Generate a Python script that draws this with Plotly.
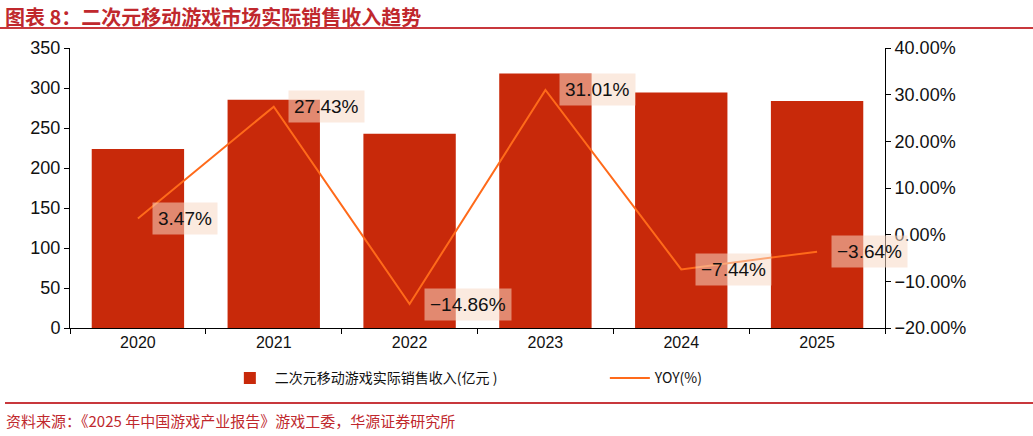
import plotly.graph_objects as go

years = ["2020", "2021", "2022", "2023", "2024", "2025"]
revenue = [223.8, 285.2, 242.8, 318.1, 294.4, 283.7]
yoy = [3.47, 27.43, -14.86, 31.01, -7.44, -3.64]
yoy_labels = ["3.47%", "27.43%", "\u221214.86%", "31.01%", "\u22127.44%", "\u22123.64%"]
left_ticks = [0, 50, 100, 150, 200, 250, 300, 350]
right_ticks = [-20, -10, 0, 10, 20, 30, 40]
right_ticktext = ["\u221220.00%", "\u221210.00%", "0.00%", "10.00%", "20.00%", "30.00%", "40.00%"]

BAR = "#C8290A"
LINE = "#FF6A1A"
RED = "#C0282D"
TICKFONT = dict(family="Liberation Sans, Arial, sans-serif", size=18, color="#111")

fig = go.Figure()
fig.add_trace(go.Bar(
    x=years, y=revenue, name="二次元移动游戏实际销售收入(亿元 )",
    marker=dict(color=BAR, line=dict(width=0)), yaxis="y",
))
fig.add_trace(go.Scatter(
    x=years, y=yoy, name="YOY(%)", mode="lines",
    line=dict(color=LINE, width=2), yaxis="y2",
))

# category index positions for the labels (category axis)
for i, (v, t) in enumerate(zip(yoy, yoy_labels)):
    fig.add_annotation(
        x=i, y=v, xref="x", yref="y2", text=t, showarrow=False,
        xanchor="left", yanchor="middle", xshift=14,
        font=dict(family="Liberation Sans, Arial, sans-serif", size=19, color="#111"),
        bgcolor="rgba(247,217,197,0.55)", borderpad=5,
    )

fig.update_layout(
    width=1033, height=436,
    margin=dict(l=70, r=148, t=48, b=108),
    paper_bgcolor="white", plot_bgcolor="white",
    bargap=0.32,
    showlegend=True,
    legend=dict(
        orientation="h", x=0.19, y=-0.18, xanchor="left", yanchor="middle",
        font=dict(family="Noto Sans CJK SC, Liberation Sans, sans-serif", size=14, color="#111"),
        entrywidth=325, itemwidth=40, bgcolor="rgba(0,0,0,0)",
    ),
    xaxis=dict(
        type="category", range=[-0.5, len(years) - 0.5],
        showline=True, linecolor="#000", linewidth=1,
        ticks="outside", ticklen=5, tickcolor="#000", tickson="boundaries",
        tickfont=dict(family="Liberation Sans, Arial, sans-serif", size=16, color="#111"),
        showgrid=False, zeroline=False,
    ),
    yaxis=dict(
        range=[0, 350], tickvals=left_ticks,
        showline=True, linecolor="#000", linewidth=1,
        ticks="outside", ticklen=5, tickcolor="#000",
        tickfont=TICKFONT, showgrid=False, zeroline=False,
    ),
    yaxis2=dict(
        range=[-20, 40], tickvals=right_ticks, ticktext=right_ticktext,
        overlaying="y", side="right",
        showline=True, linecolor="#000", linewidth=1,
        ticks="outside", ticklen=5, tickcolor="#000",
        tickfont=TICKFONT, showgrid=False, zeroline=False,
    ),
)

# title and source
fig.add_annotation(
    x=0, y=1, xref="paper", yref="paper", xanchor="left", yanchor="top",
    text="<b>图表 8：二次元移动游戏市场实际销售收入趋势</b>", showarrow=False,
    font=dict(family="Noto Sans CJK SC, sans-serif", size=20, color=RED),
    xshift=-67, yshift=48,
)
fig.add_annotation(
    x=0, y=0, xref="paper", yref="paper", xanchor="left", yanchor="top",
    text="资料来源：《2025 年中国游戏产业报告》游戏工委，华源证券研究所", showarrow=False,
    font=dict(family="Noto Sans CJK SC, sans-serif", size=15, color=RED),
    xshift=-66, yshift=-80,
)
fig.add_shape(type="line", xref="paper", yref="paper",
              x0=-70/815, x1=(1033-70)/815, y0=(328-28)/280, y1=(328-28)/280,
              line=dict(color="#C8383C", width=2))
fig.add_shape(type="line", xref="paper", yref="paper",
              x0=-65/815, x1=(1033-70)/815, y0=(328-403)/280, y1=(328-403)/280,
              line=dict(color="#C8383C", width=2))

fig.write_html("out.html")
